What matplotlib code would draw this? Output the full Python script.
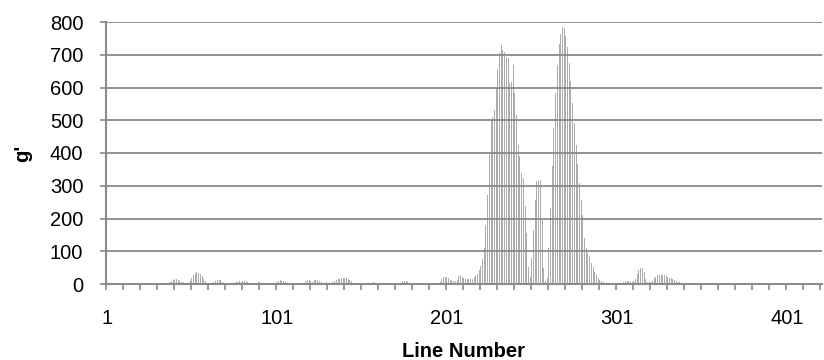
import matplotlib
matplotlib.use('Agg')
import matplotlib.pyplot as plt
import numpy as np

plt.rcParams['font.family'] = ['Liberation Sans', 'DejaVu Sans']

# g' value for each line number (1..421)
g_values = [
    0, 0, 0, 0, 0, 0, 0, 0, 0, 0,
    0, 0, 0, 0, 0, 0, 0, 0, 0, 0,
    0, 0, 0, 0, 0, 0, 0, 0, 0, 0,
    0, 0, 0, 0, 0, 0, 1, 5, 10, 13,
    15, 14, 12, 10, 7, 5, 3, 2, 4, 8,
    18, 28, 35, 37, 34, 30, 24, 16, 9, 4,
    2, 1, 2, 5, 9, 12, 13, 11, 6, 3,
    2, 3, 4, 3, 2, 2, 5, 7, 8, 7,
    8, 8, 7, 5, 3, 1, 1, 2, 4, 5,
    5, 3, 1, 0, 0, 1, 1, 0, 1, 2,
    6, 9, 11, 10, 8, 5, 3, 1, 1, 3,
    4, 4, 3, 1, 1, 2, 4, 8, 12, 13,
    10, 7, 12, 13, 11, 9, 6, 4, 3, 5,
    4, 2, 3, 5, 8, 11, 14, 16, 17, 18,
    18, 17, 15, 12, 8, 4, 2, 1, 1, 2,
    3, 4, 3, 4, 4, 3, 4, 5, 4, 3,
    4, 4, 3, 2, 2, 1, 1, 0, 1, 0,
    1, 1, 2, 4, 9, 10, 8, 6, 4, 2,
    1, 1, 0, 1, 1, 0, 1, 1, 1, 2,
    1, 2, 3, 4, 3, 2, 5, 15, 20, 22,
    20, 17, 13, 12, 10, 9, 12, 24, 26, 22,
    18, 16, 15, 14, 14, 16, 20, 25, 32, 42,
    55, 75, 109, 180, 272, 394, 500, 510, 531, 600,
    658, 704, 730, 714, 709, 694, 689, 613, 618, 669,
    582, 516, 424, 390, 339, 323, 237, 155, 53, 22,
    78, 165, 257, 313, 313, 318, 196, 48, 10, 17,
    109, 232, 359, 476, 584, 670, 732, 762, 784, 782,
    758, 725, 675, 619, 553, 492, 425, 367, 308, 257,
    211, 140, 109, 94, 84, 63, 53, 38, 28, 17,
    12, 9, 6, 4, 3, 2, 1, 1, 1, 1,
    1, 2, 2, 4, 6, 8, 9, 8, 7, 6,
    9, 15, 30, 44, 50, 48, 36, 15, 6, 5,
    7, 10, 18, 22, 26, 28, 29, 28, 27, 25,
    22, 19, 17, 14, 12, 9, 7, 5, 3, 2,
    1, 0, 0, 0, 0, 0, 0, 0, 0, 0,
    0, 0, 0, 0, 0, 0, 0, 0, 0, 0,
    0, 0, 0, 0, 0, 0, 0, 0, 0, 0,
    0, 0, 0, 0, 0, 0, 0, 0, 0, 0,
    0, 0, 0, 0, 0, 0, 0, 0, 0, 0,
    0, 0, 0, 0, 0, 0, 0, 0, 0, 0,
    0, 0, 0, 0, 0, 0, 0, 0, 0, 0,
    0, 0, 0, 0, 0, 0, 0, 0, 0, 0,
    0,
]
line_numbers = list(range(1, len(g_values) + 1))
x_label_lines = [1, 101, 201, 301, 401]
x_label_texts = ['1', '101', '201', '301', '401']
y_ticks = [0, 100, 200, 300, 400, 500, 600, 700, 800]

W, H = 824, 360
fig = plt.figure(figsize=(W / 100, H / 100), dpi=100)
left, right, top, bottom = 106, 821.7, 22, 284
ax = fig.add_axes([left / W, 1 - bottom / H, (right - left) / W, (bottom - top) / H])

grey = '#8a8a8a'
ax.bar(line_numbers, g_values, width=0.62, color='#acacac', linewidth=0, zorder=1)

ax.set_xlim(0.5, len(g_values) + 0.5)
ax.set_ylim(0, 800)
ax.set_yticks(y_ticks)
ax.set_yticklabels([str(v) for v in y_ticks])
ax.yaxis.grid(True, color=grey, linewidth=1.3)
ax.set_axisbelow(False)

for s in ['top', 'right']:
    ax.spines[s].set_visible(False)
for s in ['left', 'bottom']:
    ax.spines[s].set_color(grey)
    ax.spines[s].set_linewidth(1.5)
    ax.spines[s].set_zorder(4)

fs = 14.5
ax.set_xticks(x_label_lines)
ax.set_xticklabels(x_label_texts)
ax.set_xticks(np.arange(0.5, len(g_values) + 0.5, 10), minor=True)
ax.tick_params(axis='x', which='major', length=0, pad=18, labelsize=fs)
ax.tick_params(axis='x', which='minor', length=4.3, width=1.2, color=grey, direction='out')
ax.tick_params(axis='y', length=4.3, width=1.2, color=grey, pad=12, labelsize=fs)

ax.set_xlabel('Line Number', fontsize=fs, fontweight='bold')
ax.xaxis.set_label_coords(0.5, -0.222)
ax.xaxis.label.set_va('top')
ax.set_ylabel("g'", fontsize=fs, fontweight='bold')
ax.yaxis.set_label_coords(-0.103, 0.5)

fig.savefig('out.png', dpi=100)
